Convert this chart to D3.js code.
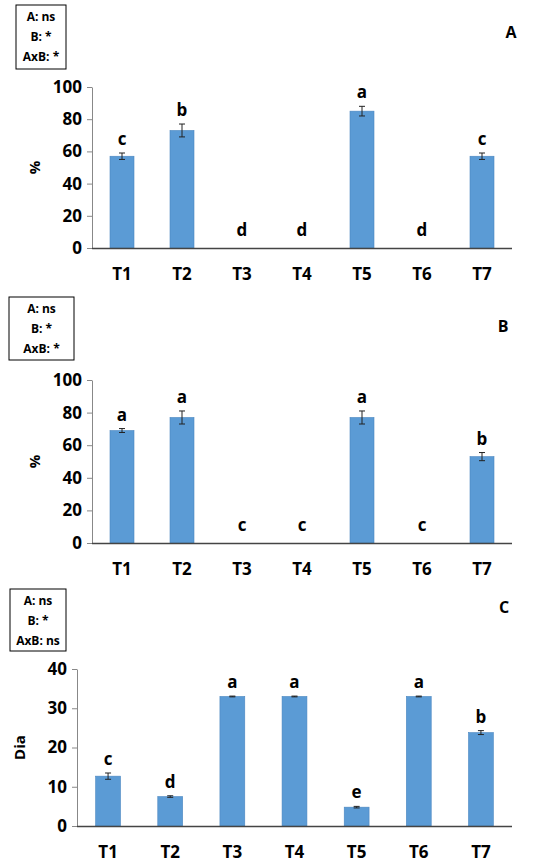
<!DOCTYPE html>
<html><head><meta charset="utf-8">
<script src="https://cdn.jsdelivr.net/npm/d3@7"></script>
<style>body{margin:0;background:#fff}text{font-family:"Open Sans","DejaVu Sans",sans-serif;font-weight:bold}</style>
</head><body><svg id="c" width="535" height="867"></svg>
<script>
const cats = ['T1','T2','T3','T4','T5','T6','T7'];
const valsA = [57, 73, 0, 0, 85, 0, 57];
const errA = [2, 4, 0, 0, 3, 0, 2];
const letA = ['c','b','d','d','a','d','c'];
const valsB = [69, 77, 0, 0, 77, 0, 53];
const errB = [1.2, 4, 0, 0, 4, 0, 2.5];
const letB = ['a','a','c','c','a','c','b'];
const valsC = [12.7, 7.5, 33, 33, 4.8, 33, 23.8];
const errC = [0.8, 0.2, 0.1, 0.1, 0.2, 0.1, 0.5];
const letC = ['c','d','a','a','e','a','b'];
const ticksPct = [0, 20, 40, 60, 80, 100];
const ticksDia = [0, 10, 20, 30, 40];

const svg = d3.select('#c');

function panel(o) {
  const g = svg.append('g');
  // stats box
  g.append('rect').attr('x', o.box[0]).attr('y', o.box[1]).attr('width', o.box[2]).attr('height', o.box[3])
    .attr('fill', 'none').attr('stroke', '#000').attr('stroke-width', 1);
  o.stats.forEach((s, i) => {
    g.append('text').attr('x', o.box[0] + o.box[2] / 2).attr('y', o.box[1] + 16 + i * 20)
      .attr('text-anchor', 'middle').attr('font-size', 12).text(s);
  });
  g.append('text').attr('x', o.tag[0]).attr('y', o.tag[1]).attr('font-size', 16).attr('text-anchor', 'middle').text(o.name);

  const x = d3.scaleBand().domain(cats).range([o.x0, o.x1]).paddingInner(0.6).paddingOuter(0.3);
  const y = d3.scaleLinear().domain([0, o.max]).range([o.y0, o.y1]);

  const ya = g.append('g').attr('transform', `translate(${o.x0},0)`)
    .call(d3.axisLeft(y).tickValues(o.ticks).tickSize(5).tickSizeOuter(0));
  ya.select('.domain').attr('stroke', '#888');
  ya.selectAll('line').attr('stroke', '#888');
  ya.selectAll('text').attr('font-size', 17).attr('fill', '#000').attr('dx', '-2');

  g.append('text').attr('transform', `translate(${o.x0 - 52},${(o.y0 + o.y1) / 2}) rotate(-90)`)
    .attr('text-anchor', 'middle').attr('font-size', 15).text(o.ylabel);

  g.selectAll('.bar').data(o.vals).enter().append('rect')
    .attr('x', (d, i) => x(cats[i])).attr('width', x.bandwidth())
    .attr('y', d => y(d)).attr('height', d => o.y0 - y(d))
    .attr('fill', '#5b9bd5').attr('stroke', '#4a86c0').attr('stroke-width', 0.6);

  o.vals.forEach((v, i) => {
    if (v === 0) return;
    const cx = x(cats[i]) + x.bandwidth() / 2, e = o.err[i];
    const path = `M${cx - 3},${y(v + e)}H${cx + 3}M${cx},${y(v + e)}V${y(v - e)}M${cx - 3},${y(v - e)}H${cx + 3}`;
    g.append('path').attr('d', path).attr('stroke', '#222').attr('stroke-width', 1).attr('fill', 'none');
  });

  const xa = g.append('g').attr('transform', `translate(0,${o.y0})`)
    .call(d3.axisBottom(x).tickSize(0).tickPadding(20));
  xa.select('.domain').attr('d', `M${o.x0},0.5H${o.x2}`).attr('stroke', '#444').attr('stroke-width', 1.5);
  xa.selectAll('text').attr('font-size', 17).attr('fill', '#000');

  o.lets.forEach((l, i) => {
    const cx = x(cats[i]) + x.bandwidth() / 2;
    const top = o.vals[i] === 0 ? o.y0 - 12 : y(o.vals[i] + o.err[i]) - 8;
    g.append('text').attr('x', cx).attr('y', top).attr('text-anchor', 'middle').attr('font-size', 17).text(l);
  });
}

panel({ name: 'A', tag: [511, 38], box: [16, 5, 50, 64], stats: ['A: ns', 'B: *', 'AxB: *'],
  x0: 92, x1: 512, x2: 512, y0: 248, y1: 87, max: 100, ticks: ticksPct, ylabel: '%',
  vals: valsA, err: errA, lets: letA });
panel({ name: 'B', tag: [503, 332], box: [9, 297, 65, 63], stats: ['A: ns', 'B: *', 'AxB: *'],
  x0: 92, x1: 512, x2: 512, y0: 543, y1: 380, max: 100, ticks: ticksPct, ylabel: '%',
  vals: valsB, err: errB, lets: letB });
panel({ name: 'C', tag: [504, 613], box: [10, 589, 56, 62], stats: ['A: ns', 'B: *', 'AxB: ns'],
  x0: 77, x1: 512, x2: 512, y0: 826, y1: 669, max: 40, ticks: ticksDia, ylabel: 'Dia',
  vals: valsC, err: errC, lets: letC });
</script></body></html>
